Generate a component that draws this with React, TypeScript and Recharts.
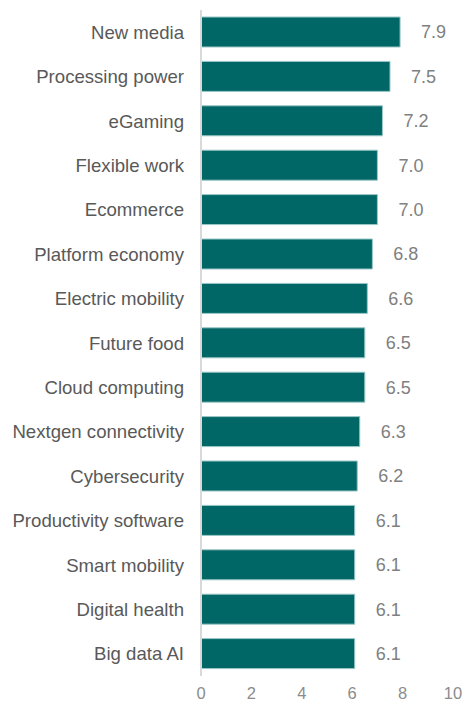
import { BarChart, Bar, XAxis, YAxis, LabelList } from 'recharts';

const trends = [
  'New media',
  'Processing power',
  'eGaming',
  'Flexible work',
  'Ecommerce',
  'Platform economy',
  'Electric mobility',
  'Future food',
  'Cloud computing',
  'Nextgen connectivity',
  'Cybersecurity',
  'Productivity software',
  'Smart mobility',
  'Digital health',
  'Big data AI',
];

const scores = [7.9, 7.5, 7.2, 7.0, 7.0, 6.8, 6.6, 6.5, 6.5, 6.3, 6.2, 6.1, 6.1, 6.1, 6.1];

const xTicks = [0, 2, 4, 6, 8, 10];

const data = trends.map((name, i) => ({ name, score: scores[i] }));

export default function App() {
  return (
    <div style={{ position: 'absolute', left: 0, top: 0, width: 466, height: 704, background: '#fff', fontFamily: '"Liberation Sans", Arial, sans-serif' }}>
      <BarChart
        width={466}
        height={704}
        data={data}
        layout="vertical"
        margin={{ top: 10, right: 13, left: 0, bottom: 0 }}
        barSize={30}
      >
        <XAxis
          type="number"
          domain={[0, 10]}
          ticks={xTicks}
          axisLine={false}
          tickLine={false}
          tickSize={0}
          tickMargin={11}
          height={28}
          tick={{ fill: '#8c8c8c', fontSize: 16.5 }}
        />
        <YAxis
          type="category"
          dataKey="name"
          width={201}
          axisLine={{ stroke: '#d9d9d9', strokeWidth: 2 }}
          tickLine={false}
          tickSize={0}
          tickMargin={17}
          interval={0}
          tick={{ fill: '#595959', fontSize: 18.6 }}
        />
        <Bar dataKey="score" fill="#006666" stroke="#9cc7c7" strokeWidth={1} isAnimationActive={false}>
          <LabelList
            dataKey="score"
            position="right"
            offset={21}
            formatter={(v: number) => v.toFixed(1)}
            style={{ fill: '#808080', fontSize: 18 }}
          />
        </Bar>
      </BarChart>
    </div>
  );
}
